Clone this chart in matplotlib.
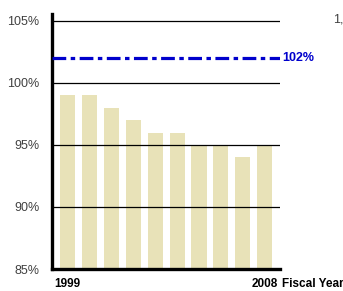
import numpy as np
import matplotlib
matplotlib.use('Agg')
import matplotlib.pyplot as plt

plt.rcParams['font.family'] = ['Liberation Sans', 'DejaVu Sans']

# Data
years = [1999, 2000, 2001, 2002, 2003, 2004, 2005, 2006, 2007, 2008]
values = [99, 99, 98, 97, 96, 96, 95, 95, 94, 95]
target = 102
yticks = [85, 90, 95, 100, 105]

fig = plt.figure(figsize=(3.43, 2.91), dpi=100)
ax = fig.add_axes([52 / 343, 22 / 291, 228 / 343, 255 / 291])

x = np.arange(len(years))
ax.bar(x, values, width=0.69, color='#E8E2B8', zorder=1)

# horizontal gridlines
for t in yticks:
    ax.axhline(t, color='black', lw=0.9, zorder=2)

# target line
ax.axhline(target, color='#0000CC', lw=2.3, linestyle=(0, (4.3, 1.4, 1.4, 1.4)), zorder=3)
ax.text(1.01, target, f'{target}%', transform=ax.get_yaxis_transform(),
        color='#0000CC', fontsize=9, fontweight='bold', va='center', ha='left')

ax.set_xlim(-0.71, 9.70)
ax.set_ylim(85, 105.56)
ax.set_yticks(yticks)
ax.set_yticklabels([f'{t}%' for t in yticks], color='#404040', fontsize=9)
ax.tick_params(axis='y', length=0, pad=9)
ax.set_xticks([])

for s in ['top', 'right']:
    ax.spines[s].set_visible(False)
ax.spines['left'].set_linewidth(2.4)
ax.spines['bottom'].set_linewidth(2.4)

# x labels: only first and last year, plus axis title
ax.text(x[0], -0.058, str(years[0]), transform=ax.get_xaxis_transform(),
        fontsize=8.5, fontweight='bold', ha='center', va='center')
ax.text(x[-1], -0.058, str(years[-1]), transform=ax.get_xaxis_transform(),
        fontsize=8.5, fontweight='bold', ha='center', va='center')
ax.text(1.01, -0.058, 'Fiscal Year', transform=ax.transAxes,
        fontsize=8.5, fontweight='bold', ha='left', va='center')

# cut-off text at top right
fig.text(333 / 343, 1 - 20 / 291, '1,', color='#404040', fontsize=9, ha='left', va='center')

fig.savefig('out.png', dpi=100)
